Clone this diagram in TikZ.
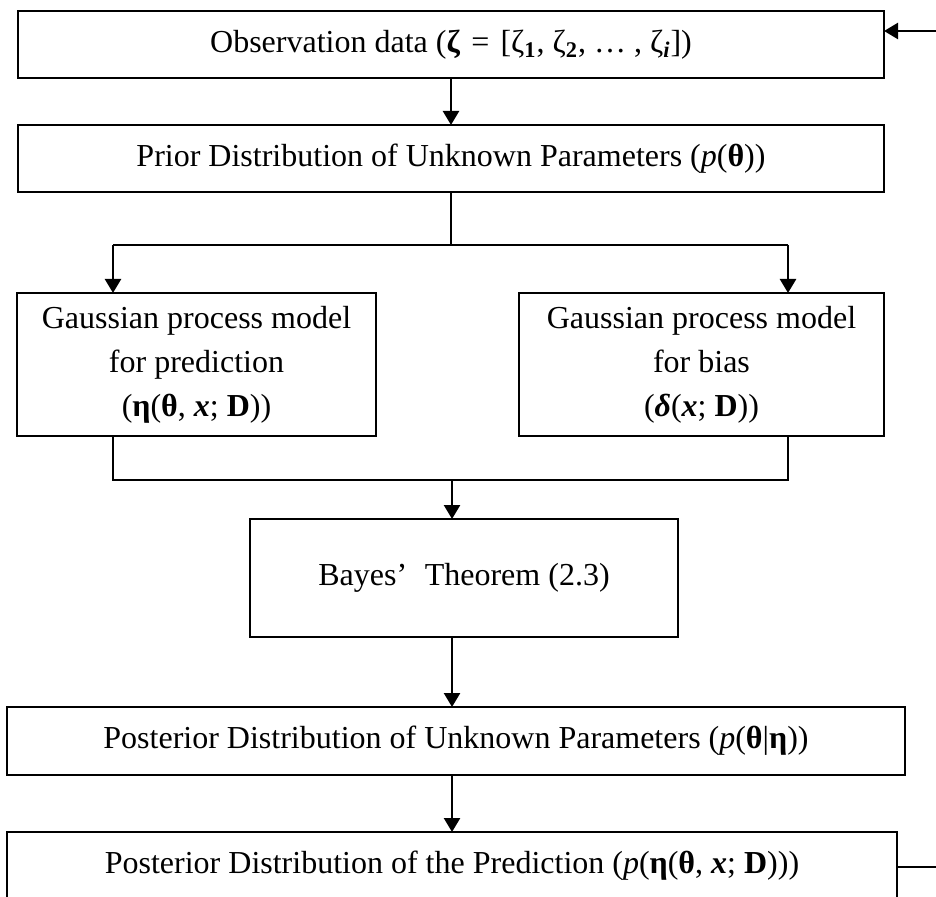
\documentclass[tikz,border=0pt]{standalone}
\usepackage{fontspec}
\setmainfont{Liberation Serif}
\usetikzlibrary{arrows.meta}

\begin{document}
\begin{tikzpicture}[
  x=0.5pt, y=-0.5pt,
  box/.style={draw, line width=1.25pt, inner sep=0pt, outer sep=0pt,
              align=center, font=\fontsize{16pt}{22pt}\selectfont},
  link/.style={line width=1.25pt},
  arr/.style={link, -{Triangle[length=7pt, width=8pt]}}
]
\clip (0,0) rectangle (936,897);

% process boxes
\node[box, minimum width=433pt, minimum height=33.5pt] (obs) at (451,44.5)
  {Observation data (\textbf{ζ}\hspace{0.1em} = \hspace{0.1em}[ζ\textsubscript{\textbf{1}}, ζ\textsubscript{\textbf{2}}, … , ζ\textsubscript{\textbf{\textit{i}}}])};
\node[box, minimum width=433pt, minimum height=33.5pt] (prior) at (451,158.5)
  {Prior Distribution of Unknown Parameters (\textit{p}(\textbf{θ}))};
\node[box, minimum width=179.5pt, minimum height=71.5pt] (gpl) at (196.5,364.5)
  {Gaussian process model\\ for prediction\\ (\textbf{η}(\textbf{θ}, \textbf{\textit{x}}; \textbf{D}))};
\node[box, minimum width=182.5pt, minimum height=71.5pt] (gpr) at (701.5,364.5)
  {Gaussian process model\\ for bias\\ (\textbf{\textit{δ}}(\textbf{\textit{x}}; \textbf{D}))};
\node[box, minimum width=214pt, minimum height=59pt] (bayes) at (464,578)
  {Bayes’\hspace{0.55em}Theorem (2.3)};
\node[box, minimum width=449pt, minimum height=34pt] (post) at (456,741)
  {Posterior Distribution of Unknown Parameters (\textit{p}(\textbf{θ}|\textbf{η}))};
\node[box, minimum width=445pt, minimum height=34pt] (pred) at (452,866)
  {Posterior Distribution of the Prediction (\textit{p}(\textbf{η}(\textbf{θ}, \textbf{\textit{x}}; \textbf{D})))};

% junction points
\coordinate (split) at (451,245);
\coordinate (sl) at (113,245);
\coordinate (sr) at (788,245);
\coordinate (merge) at (452,480);
\coordinate (ml) at (113,480);
\coordinate (mr) at (788,480);
\coordinate (fbin) at (936,31);
\coordinate (fbout) at (936,867);

% connectors
\draw[arr] (obs.south) -- (prior.north);
\draw[link] (prior.south) -- (split);
\draw[link] (sl) -- (sr);
\draw[arr] (sl) -- (sl |- gpl.north);
\draw[arr] (sr) -- (sr |- gpr.north);
\draw[link] (gpl.south -| ml) -- (ml) -- (mr) -- (gpr.south -| mr);
\draw[arr] (merge) -- (merge |- bayes.north);
\draw[arr] (bayes.south -| merge) -- (post.north -| merge);
\draw[arr] (post.south -| merge) -- (pred.north -| merge);
\draw[arr] (fbin) -- (fbin -| obs.east);
\draw[link] (pred.east |- fbout) -- (fbout);
\end{tikzpicture}
\end{document}
